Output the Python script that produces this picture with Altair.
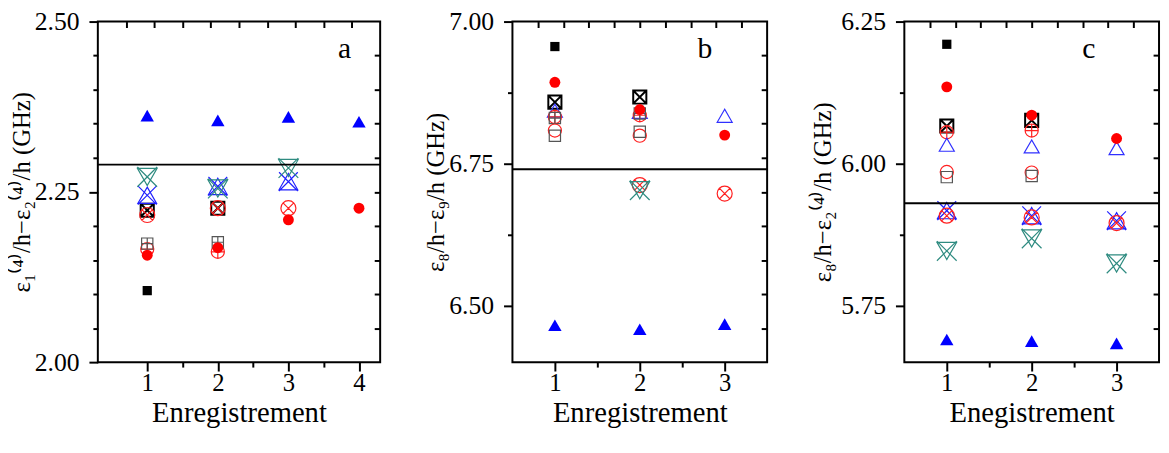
import altair as alt
import pandas as pd

FONT = "Liberation Serif"

SERIES = ["sq_fill", "circ_fill", "sq_x", "circ_open", "sq_open", "circ_plus",
          "sq_plus", "circ_x", "tri_open", "tri_fill", "tri_x", "tri_down_x"]
FILLED = ["sq_fill", "circ_fill", "tri_fill"]

# ---- panel a : x = 1..4 ----
a_x = [1, 2, 3, 4]
a_sq_fill = [2.105, None, None, None]
a_circ_fill = [2.157, 2.168, 2.209, 2.226]
a_sq_x = [2.223, 2.226, None, None]
a_circ_x = [2.216, 2.226, 2.226, None]
a_circ_plus = [2.166, 2.162, None, None]
a_sq_plus = [2.174, 2.176, None, None]
a_tri_fill = [2.362, 2.355, 2.360, 2.353]
a_tri_x = [2.245, 2.258, 2.265, None]
a_tri_down_x = [2.272, 2.255, 2.285, None]

# ---- panel b : x = 1..3 ----
b_x = [1, 2, 3]
b_sq_fill = [6.956, None, None]
b_circ_fill = [6.893, 6.845, 6.800]
b_sq_x = [6.858, 6.867, None]
b_tri_open = [6.843, 6.841, 6.834]
b_circ_plus = [6.832, 6.835, None]
b_sq_plus = [6.830, 6.838, None]
b_circ_open = [6.808, 6.799, None]
b_sq_open = [6.799, 6.806, None]
b_circ_x = [None, 6.712, 6.697]
b_tri_down_x = [None, 6.703, None]
b_tri_fill = [6.465, 6.458, 6.467]

# ---- panel c : x = 1..3 ----
c_x = [1, 2, 3]
c_sq_fill = [6.210, None, None]
c_circ_fill = [6.135, 6.085, 6.044]
c_sq_x = [6.066, 6.076, None]
c_circ_plus = [6.055, 6.058, None]
c_tri_open = [6.033, 6.030, 6.027]
c_circ_open = [5.985, 5.984, None]
c_sq_open = [5.976, 5.978, None]
c_tri_x = [5.917, 5.908, 5.899]
c_circ_x = [5.908, 5.905, 5.895]
c_tri_down_x = [5.846, 5.868, 5.824]
c_tri_fill = [5.690, 5.687, 5.683]

ref_lines = [2.29, 6.74, 5.93]
panel_letters = ["a", "b", "c"]
y_titles = ["ε₁⁽⁴⁾/h−ε₂⁽⁴⁾/h (GHz)", "ε₈/h−ε₉/h (GHz)", "ε₈/h−ε₂⁽⁴⁾/h (GHz)"]
x_titles = ["Enregistrement", "Enregistrement", "Enegistrement"]

a_left_ticks = [2.0, 2.05, 2.1, 2.15, 2.2, 2.25, 2.3, 2.35, 2.4, 2.45, 2.5]
a_right_ticks = [2.05, 2.1, 2.15, 2.2, 2.25, 2.3, 2.35, 2.4, 2.45]
a_bottom_ticks = [1, 1.5, 2, 2.5, 3, 3.5, 4]
a_top_ticks = [0.7, 1.1, 1.5, 1.9, 2.3, 2.7, 3.1, 3.5, 3.9]
b_left_ticks = [6.5, 6.625, 6.75, 6.875, 7.0]
b_right_ticks = [6.46, 6.52, 6.58, 6.64, 6.70, 6.76, 6.82, 6.88, 6.94]
c_left_ticks = [5.75, 5.875, 6.0, 6.125, 6.25]
c_right_ticks = [5.71, 5.77, 5.83, 5.89, 5.95, 6.01, 6.07, 6.13, 6.19]
bc_bottom_ticks = [1, 1.5, 2, 2.5, 3]
bc_top_ticks = [0.8, 1.1, 1.4, 1.7, 2.0, 2.3, 2.6, 2.9, 3.2]

# ---- marker styles ----
CIRCLE = "M-1,0A1,1,0,1,1,1,0A1,1,0,1,1,-1,0Z"
XD = "M-0.72,-0.72L0.72,0.72M-0.72,0.72L0.72,-0.72"
XS = "M-1,-1L1,1M-1,1L1,-1"
PLUS = "M-1,0L1,0M0,-1L0,1"
SQUARE = "M-1,-1L1,-1L1,1L-1,1Z"
shape_range = {
    "sq_fill": "square",
    "circ_fill": "circle",
    "sq_x": SQUARE + XS,
    "circ_open": "circle",
    "sq_open": "square",
    "circ_plus": CIRCLE + PLUS,
    "sq_plus": SQUARE + PLUS,
    "circ_x": CIRCLE + XD,
    "tri_open": "triangle-up",
    "tri_fill": "triangle-up",
    "tri_x": "M0,-0.87L1,0.87L-1,0.87Z" + XS,
    "tri_down_x": "M-1,-0.87L1,-0.87L0,0.87Z" + XS,
}
color_range = {
    "sq_fill": "#000000", "circ_fill": "#ff0000", "sq_x": "#000000",
    "circ_open": "#ff2020", "sq_open": "#555555", "circ_plus": "#ff2020",
    "sq_plus": "#555555", "circ_x": "#ff2020", "tri_open": "#3030ff",
    "tri_fill": "#0000ff", "tri_x": "#2020ff", "tri_down_x": "#2e8b80",
}
width_px = {
    "sq_fill": 11, "circ_fill": 13, "sq_x": 14, "circ_open": 14, "sq_open": 12,
    "circ_plus": 14, "sq_plus": 12, "circ_x": 16, "tri_open": 16, "tri_fill": 16,
    "tri_x": 20, "tri_down_x": 21,
}


def make_df(xs, cols):
    rows = []
    for name, vals in cols.items():
        for xv, yv in zip(xs, vals):
            if yv is not None:
                rows.append({"x": xv, "y": yv, "series": name,
                             "filled": name in FILLED})
    return pd.DataFrame(rows)


df_a = make_df(a_x, {"sq_fill": a_sq_fill, "circ_fill": a_circ_fill, "sq_x": a_sq_x,
                     "circ_x": a_circ_x, "circ_plus": a_circ_plus, "sq_plus": a_sq_plus,
                     "tri_fill": a_tri_fill, "tri_x": a_tri_x, "tri_down_x": a_tri_down_x})
df_b = make_df(b_x, {"sq_fill": b_sq_fill, "circ_fill": b_circ_fill, "sq_x": b_sq_x,
                     "tri_open": b_tri_open, "circ_plus": b_circ_plus, "sq_plus": b_sq_plus,
                     "circ_open": b_circ_open, "sq_open": b_sq_open, "circ_x": b_circ_x,
                     "tri_down_x": b_tri_down_x, "tri_fill": b_tri_fill})
df_c = make_df(c_x, {"sq_fill": c_sq_fill, "circ_fill": c_circ_fill, "sq_x": c_sq_x,
                     "circ_plus": c_circ_plus, "tri_open": c_tri_open, "circ_open": c_circ_open,
                     "sq_open": c_sq_open, "tri_x": c_tri_x, "circ_x": c_circ_x,
                     "tri_down_x": c_tri_down_x, "tri_fill": c_tri_fill})

MAJ_Y = "abs(datum.value*4 - round(datum.value*4)) < 0.001"
MAJ_X = "abs(datum.value - round(datum.value)) < 0.001"


def panel(df, xdom, ydom, left_ticks, right_ticks, bottom_ticks, top_ticks,
          ref, letter, letter_x, ytitle, xtitle, w, h, fscale, ytitle_pad):
    xs = alt.Scale(domain=xdom, nice=False, zero=False)
    ys = alt.Scale(domain=ydom, nice=False, zero=False)
    shape = alt.Shape("series:N", legend=None,
                      scale=alt.Scale(domain=SERIES, range=[shape_range[s] for s in SERIES]))
    color = alt.Color("series:N", legend=None,
                      scale=alt.Scale(domain=SERIES, range=[color_range[s] for s in SERIES]))
    sizes = []
    for s in SERIES:
        f = fscale[0] if s in FILLED else fscale[1]
        sizes.append(round((width_px[s] * f) ** 2, 1))
    size = alt.Size("series:N", legend=None,
                    scale=alt.Scale(type="ordinal", domain=SERIES, range=sizes))
    sw = alt.condition(alt.datum.series == "sq_x", alt.value(2.0), alt.value(1.2))

    x_main = alt.X("x:Q", scale=xs, title=xtitle, axis=alt.Axis(
        orient="bottom", values=bottom_ticks, domain=False,
        labelExpr="%s ? format(datum.value, 'd') : ''" % MAJ_X,
        tickSize={"condition": {"test": MAJ_X, "value": 9}, "value": 5},
        tickWidth=2, tickColor="black", labelPadding=0, labelFontSize=25,
        titleFontSize=29, titlePadding=3, grid=False, titleFontWeight="normal"))
    y_main = alt.Y("y:Q", scale=ys, title=ytitle, axis=alt.Axis(
        orient="left", values=left_ticks, domain=False,
        labelExpr="%s ? format(datum.value, '.2f') : ''" % MAJ_Y,
        tickSize={"condition": {"test": MAJ_Y, "value": 9}, "value": 5},
        tickWidth=2, tickColor="black", labelPadding=10, labelFontSize=26,
        titleFontSize=25, titlePadding=ytitle_pad, grid=False, titleFontWeight="normal"))

    open_layer = alt.Chart(df).transform_filter(alt.datum.filled == False).mark_point(
        filled=False, opacity=1).encode(
        x=x_main, y=y_main, shape=shape, color=color, size=size, strokeWidth=sw)
    fill_layer = alt.Chart(df).transform_filter(alt.datum.filled == True).mark_point(
        filled=True, opacity=1).encode(
        x=alt.X("x:Q", scale=xs, axis=None), y=alt.Y("y:Q", scale=ys, axis=None),
        shape=shape, color=color, size=size)
    ghost = alt.Chart(df).mark_point(opacity=0).encode(
        x=alt.X("x:Q", scale=xs, axis=alt.Axis(
            orient="top", values=top_ticks, labels=False, domain=False, title=None,
            tickSize=6, offset=-6, tickWidth=2, tickColor="black", grid=False)),
        y=alt.Y("y:Q", scale=ys, axis=alt.Axis(
            orient="right", values=right_ticks, labels=False, domain=False, title=None,
            tickSize=6, offset=-6, tickWidth=2, tickColor="black", grid=False)))
    rule = alt.Chart(pd.DataFrame({"y": [ref]})).mark_rule(
        color="black", strokeWidth=2).encode(y=alt.Y("y:Q", scale=ys, axis=None))
    text = alt.Chart(pd.DataFrame({"t": [letter]})).mark_text(
        fontSize=30, font=FONT, color="black").encode(
        text="t:N", x=alt.value(letter_x), y=alt.value(28))
    return alt.layer(open_layer, fill_layer, rule, text, ghost).resolve_axis(
        x="independent", y="independent").properties(width=w, height=h)


pa = panel(df_a, [0.3, 4.3], [2.0, 2.5], a_left_ticks, a_right_ticks, a_bottom_ticks,
           a_top_ticks, ref_lines[0], panel_letters[0], 250, y_titles[0], x_titles[0],
           286, 345, (0.85, 0.95), 0)
pb = panel(df_b, [0.5, 3.5], [6.4, 7.0], b_left_ticks, b_right_ticks, bc_bottom_ticks,
           bc_top_ticks, ref_lines[1], panel_letters[1], 195, y_titles[1], x_titles[1],
           258, 345, (1.0, 1.0), 0)
pc = panel(df_c, [0.5, 3.5], [5.65, 6.25], c_left_ticks, c_right_ticks, bc_bottom_ticks,
           bc_top_ticks, ref_lines[2], panel_letters[2], 187, y_titles[2], x_titles[2],
           258, 345, (0.72, 1.0), 5)

chart = alt.hconcat(pa, pb, pc, spacing=41).properties(
    padding={"left": 0, "top": -3, "right": 0, "bottom": 0}
).configure(font=FONT).configure_view(
    stroke="black", strokeWidth=2
).configure_axis(
    labelFont=FONT, titleFont=FONT, labelColor="black", titleColor="black",
    titleFontWeight="normal"
)

chart.save("out.html", embed_options={"renderer": "svg", "actions": False})
